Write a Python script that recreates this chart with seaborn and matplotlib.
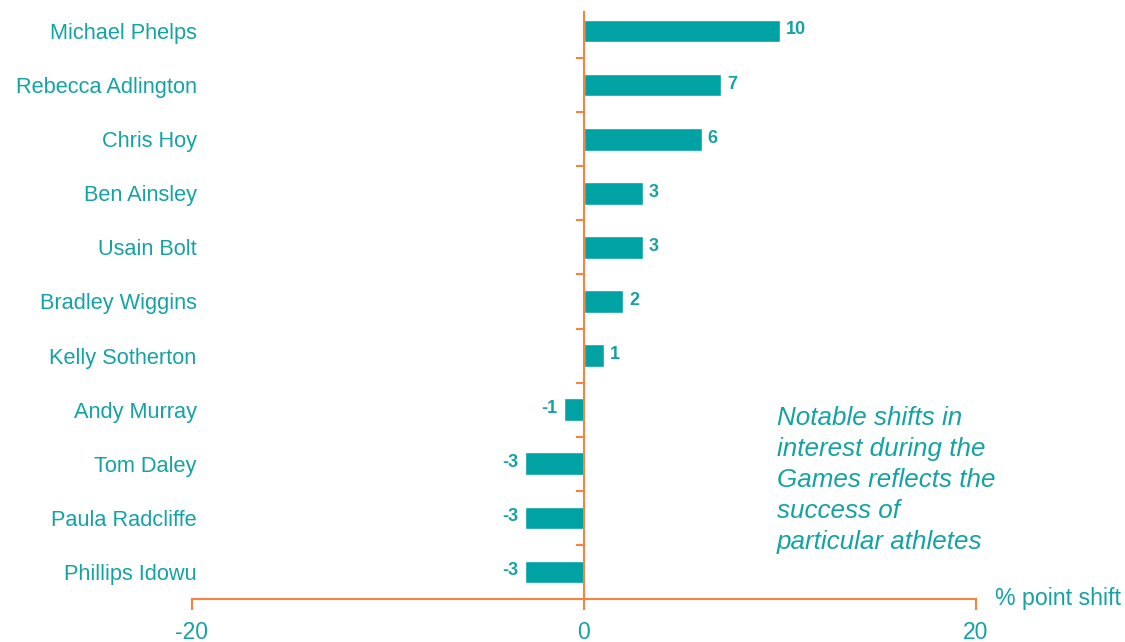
import matplotlib
matplotlib.use("Agg")
import matplotlib.pyplot as plt
import seaborn as sns
import pandas as pd
from matplotlib.ticker import FixedLocator

athletes = ["Michael Phelps", "Rebecca Adlington", "Chris Hoy", "Ben Ainsley",
            "Usain Bolt", "Bradley Wiggins", "Kelly Sotherton", "Andy Murray",
            "Tom Daley", "Paula Radcliffe", "Phillips Idowu"]
shift = [10, 7, 6, 3, 3, 2, 1, -1, -3, -3, -3]
x_ticks = [-20, 0, 20]
x_label = "% point shift"
note = "Notable shifts in\ninterest during the\nGames reflects the\nsuccess of\nparticular athletes"

TEAL = "#00A2A3"
TEXT = "#14A3A3"
ORANGE = "#F5843F"

sns.set_theme(style="white")
plt.rcParams['font.family'] = ['Liberation Sans', 'DejaVu Sans']

df = pd.DataFrame({"athlete": athletes, "shift": shift})

fig = plt.figure(figsize=(11.25, 6.42), dpi=100)
ax = fig.add_axes([192/1125, 43/642, 784/1125, 595/642])

sns.barplot(data=df, x="shift", y="athlete", orient="h", color=TEAL,
            width=0.42, saturation=1, ax=ax)

n = len(athletes)
ax.set_xlim(-20, 20)
ax.set_ylim(n - 0.5, -0.5)

for s in ["top", "right"]:
    ax.spines[s].set_visible(False)
ax.spines["left"].set_position(("data", 0))
ax.spines["left"].set_color(ORANGE)
ax.spines["left"].set_linewidth(1.5)
ax.spines["left"].set_bounds(n - 0.5, -0.35)
ax.spines["bottom"].set_color(ORANGE)
ax.spines["bottom"].set_linewidth(1.5)

ax.set_xticks(x_ticks)
ax.set_xticklabels([str(t) for t in x_ticks])
ax.tick_params(axis="x", direction="out", length=8, width=1.5, color=ORANGE,
               labelcolor=TEXT, labelsize=16.5, pad=8, bottom=True)

ax.set_yticks(range(n))
ax.set_yticklabels(athletes)
ax.tick_params(axis="y", which="major", length=0, labelsize=15.7,
               labelcolor=TEXT, pad=279, left=True)
ax.yaxis.set_minor_locator(FixedLocator([i + 0.5 for i in range(n - 1)]))
ax.tick_params(axis="y", which="minor", direction="out", length=6, width=1.5,
               color=ORANGE, left=True)

ax.set_xlabel("")
ax.set_ylabel("")

for i, v in enumerate(shift):
    off = 0.3 if v > 0 else -0.35
    ax.text(v + off, i - 0.02, str(v), ha="left" if v > 0 else "right", va="center",
            color=TEXT, fontsize=13, fontweight="bold")

ax.text(995/1125, 1 - 598/642, x_label, transform=fig.transFigure, ha="left",
        va="center", color=TEXT, fontsize=16.7)

fig.text(777/1125, 1 - 406/642, note, ha="left", va="top", color=TEXT,
         fontsize=18.7, style="italic", linespacing=1.37)

fig.savefig("out.png", dpi=100)
